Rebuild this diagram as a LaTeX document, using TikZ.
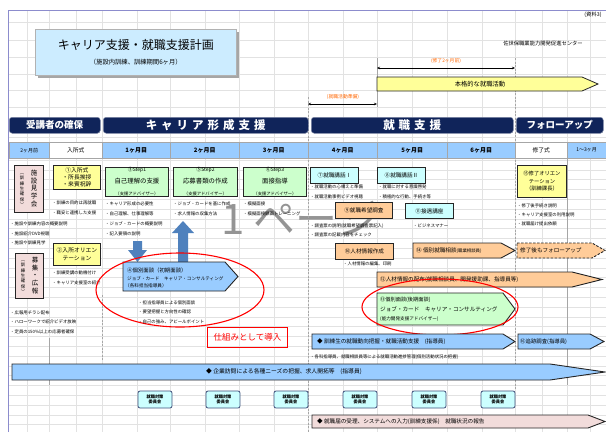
\documentclass[tikz,border=0pt]{standalone}
\usepackage{fontspec}
\setmainfont{Noto Sans CJK JP}
\usetikzlibrary{arrows.meta,shadows}
\definecolor{navyb}{RGB}{16,36,90}
\definecolor{hdrblue}{RGB}{153,204,255}
\definecolor{lblue}{RGB}{153,204,255}
\definecolor{yel}{RGB}{255,255,153}
\definecolor{grn}{RGB}{204,255,204}
\definecolor{cyn}{RGB}{204,255,255}
\definecolor{org}{RGB}{255,204,153}
\definecolor{pnk}{RGB}{242,220,219}
\definecolor{ttl}{RGB}{204,236,255}
\definecolor{gridc}{RGB}{226,226,226}
\definecolor{txtorange}{RGB}{255,102,0}
\definecolor{bigblue}{RGB}{79,129,189}
\definecolor{framec}{RGB}{140,140,205}
\newcommand{\fsz}[2]{\fontsize{#1}{#2}\selectfont}
\newcommand{\lsp}{\hspace{4pt}}
\newcommand{\pentarrow}[6][]{\draw[#1] (#2,#3) -- (#4,#3) -- (#6,{(#3+#5)/2}) -- (#4,#5) -- (#2,#5) -- cycle;}
\begin{document}
\begin{tikzpicture}[x=1pt,y=-1pt,
  itm/.style={font=\fsz{4.4}{5}, inner sep=0pt, anchor=west},
  bx/.style={draw=black!85, line width=0.9pt, inner sep=0pt, align=center, anchor=north west},
  hdr/.style={draw=gray!70, line width=0.4pt, fill=hdrblue, anchor=north west, minimum height=16pt, inner sep=0pt, font=\fsz{6}{7}\bfseries},
  banner/.style={fill=navyb, draw=navyb!55!white, line width=0.5pt, rounded corners=3pt, text=white, font=\fsz{9.5}{10}\bfseries, anchor=north west, minimum height=16pt, inner sep=0pt},
  arr/.style={draw=black!85, line width=0.9pt},
  cmt/.style={draw=navyb!80, fill=cyn, line width=0.8pt, rounded corners=2pt, minimum width=34pt, minimum height=17pt, inner sep=0pt, align=center, font=\fsz{4.2}{5.5}\bfseries},
  vline/.style={draw=gray!70, line width=0.5pt},
  dline/.style={draw=gray!70, line width=0.5pt, dash pattern=on 2pt off 1.5pt},
  ell/.style={draw=red, line width=1.1pt},
  lbl/.style={inner sep=0pt, anchor=west},
  dim/.style={draw=black, line width=0.5pt, {Stealth[length=3pt,width=2.5pt]}-{Stealth[length=3pt,width=2.5pt]}}
]
\useasboundingbox (0,0) rectangle (606,432);
\fill[white] (0,0) rectangle (606,432);
% spreadsheet grid
\foreach \gx in {27,49,76,102,137,170,205,239,274,308,343,377,412,447,482,515,542,567,590}
  {\draw[gridc, line width=0.4pt] (\gx,10) -- (\gx,432);}
\foreach \gy in {22,40,57,74,90,107,137}
  {\draw[gridc, line width=0.4pt] (8,\gy) -- (606,\gy);}
\foreach \k in {0,...,27}
  {\draw[gridc, line width=0.4pt] (8,{160+9.8*\k}) -- (606,{160+9.8*\k});}
% frame
\draw[framec, line width=0.8pt] (8,432) -- (8,10) -- (606,10);
% page watermark
\node[text=black!42, font=\fsz{42}{42}, inner sep=0pt, anchor=west] (wm) at (221,219) {1 ページ};

% top texts
\node[font=\fsz{5.3}{6}, inner sep=0pt] (doc) at (593,15) {(資料3)};
\node[font=\fsz{5.3}{6}, inner sep=0pt] (center) at (543,43) {佐世保職業能力開発促進センター};
\node[bx, fill=ttl, draw=gray!60, line width=0.6pt, minimum width=201pt, minimum height=46pt,
  drop shadow={shadow xshift=3pt, shadow yshift=-3pt, fill=black!35, opacity=1}] (title) at (35,29)
  {\fsz{12}{14}キャリア支援・就職支援計画\\[3pt]\fsz{6.3}{7}（施設内訓練、訓練期間6ヶ月）};

% period markers
\draw[vline] (377,58) -- (377,107);
\draw[dline] (515,58) -- (515,390);
\draw[dline] (308,97) -- (308,432);
\coordinate (p1) at (377,68); \coordinate (p2) at (515,68);
\draw[dim] (p1) -- (p2);
\node[font=\fsz{4.8}{5}, text=txtorange, inner sep=0pt] (pre2) at (446,61) {(修了2ヶ月前)};
\pentarrow[fill=yel, draw=black!85, line width=0.8pt]{377}{77}{582}{91}{598}
\node[font=\fsz{6.3}{7}, inner sep=0pt] (honkaku) at (480,84) {本格的な就職活動};
\coordinate (q1) at (308,104); \coordinate (q2) at (377,104);
\draw[dim] (q1) -- (q2);
\node[font=\fsz{4.8}{5}, text=txtorange, inner sep=0pt] (prep) at (343,97) {(就職活動準備)};

% banners
\node[banner, minimum width=91pt] (bn1) at (9,117) {受講者の確保};
\node[banner, minimum width=205pt, font=\fsz{11.5}{12}\bfseries] (bn2) at (103,117) {キ\lsp ャ\lsp リ\lsp ア\lsp 形\lsp 成\lsp 支\lsp 援};
\node[banner, minimum width=202pt, font=\fsz{11.5}{12}\bfseries] (bn3) at (311,117) {就\lsp 職\lsp 支\lsp 援};
\node[banner, minimum width=87pt] (bn4) at (516,117) {フォローアップ};

% header row
\node[hdr, minimum width=40pt, font=\fsz{5}{6}] (h0) at (9,142) {2ヶ月前};
\node[hdr, fill=white, minimum width=53pt, font=\fsz{5.8}{6}] (h1) at (49,142) {入所式};
\node[hdr, minimum width=68pt] (h2) at (102,142) {1ヶ月目};
\node[hdr, minimum width=69pt] (h3) at (170,142) {2ヶ月目};
\node[hdr, minimum width=69pt] (h4) at (239,142) {3ヶ月目};
\node[hdr, minimum width=69pt] (h5) at (308,142) {4ヶ月目};
\node[hdr, minimum width=70pt] (h6) at (377,142) {5ヶ月目};
\node[hdr, minimum width=68pt] (h7) at (447,142) {6ヶ月目};
\node[hdr, fill=white, minimum width=52pt, font=\fsz{5.8}{6}] (h8) at (515,142) {修了式};
\node[hdr, minimum width=39pt, font=\fsz{5}{6}] (h9) at (567,142) {1～3ヶ月};

% column lines in body
\draw[vline] (49,338) -- (49,385);
\draw[dline] (102,295) -- (102,360);
\draw[vline] (567,158) -- (567,385);

% ---- recruitment column
\node[bx, fill=pnk, minimum width=29pt, minimum height=47pt] (kengaku) at (14,165) {};
\node[font=\fsz{6.5}{7.8}, align=center, inner sep=0pt] (kg1) at (34,188.5) {施\\設\\見\\学\\会};
\node[font=\fsz{4.4}{5.4}, align=center, inner sep=0pt] (kg2) at (22,190) {︵\\訓\\練\\生\\確\\保\\︶};
\node[bx, fill=pnk, minimum width=28pt, minimum height=45pt] (boshu) at (15,253) {};
\node[font=\fsz{6.5}{7.8}, align=center, inner sep=0pt] (bs1) at (35,275.5) {募\\集\\・\\広\\報};
\node[font=\fsz{4.4}{5.4}, align=center, inner sep=0pt] (bs2) at (23,277) {︵\\訓\\練\\生\\確\\保\\︶};
\node[itm] (r1) at (10,224) {・施設や訓練内容の概要説明};
\node[itm] (r2) at (10,234) {・施設紹介DVD視聴};
\node[itm] (r3) at (10,243) {・施設や訓練見学};
\node[itm] (r4) at (10,313) {・広報用チラシ配布};
\node[itm] (r5) at (10,322) {・ハローワークで紹介ビデオ放映};
\node[itm] (r6) at (10,332) {・定員の150\%以上の応募者確保};

% ---- entrance column
\node[bx, fill=yel, minimum width=47pt, minimum height=24pt, font=\fsz{5.8}{6.8}] (nyusho) at (53,165) {①入所式\\・所長挨拶\\・来賓祝辞};
\node[itm] (n1) at (52,203) {・訓練の目的は再就職};
\node[itm] (n2) at (52,213) {・職安と連携した支援};
\node[bx, fill=yel, minimum width=47pt, minimum height=22pt, font=\fsz{5.8}{7.5}] (orient) at (53,243) {②入所オリエン\\テーション};
\node[itm] (n3) at (52,273) {・訓練受講の動機付け};
\node[itm] (n4) at (52,283) {・キャリア支援室の紹介};

% ---- steps
\node[bx, fill=grn, minimum width=63pt, minimum height=28pt] (s1) at (105,167)
  {\fsz{5}{6.5}③Step1\\\fsz{6.4}{7.5}自己理解の支援\\\fsz{4.3}{6}（支援アドバイザー）};
\node[bx, fill=grn, minimum width=64pt, minimum height=28pt] (s2) at (173,167)
  {\fsz{5}{6.5}⑤Step2\\\fsz{6.4}{7.5}応募書類の作成\\\fsz{4.3}{6}（支援アドバイザー）};
\node[bx, fill=grn, minimum width=63pt, minimum height=28pt] (s3) at (243,167)
  {\fsz{5}{6.5}⑥Step3\\\fsz{6.4}{7.5}面接指導\\\fsz{4.3}{6}（支援アドバイザー）};
\node[itm] (t1) at (105,204) {・キャリア形成の必要性};
\node[itm] (t2) at (105,214) {・自己理解、仕事理解等};
\node[itm] (t3) at (105,224) {・ジョブ・カードの概要説明};
\node[itm] (t4) at (105,234) {・記入要領の説明};
\node[itm] (t5) at (173,204) {・ジョブ・カードを基に作成};
\node[itm] (t6) at (173,214) {・求人情報の収集方法};
\node[itm] (t7) at (243,204) {・模擬面接};
\node[itm] (t8) at (243,214) {・模擬面接録画トレーニング};

% blue arrows
\fill[bigblue] (133,241) -- (142,241) -- (142,250) -- (147,250) -- (137.5,262) -- (128,250) -- (133,250) -- cycle;
\fill[bigblue] (178,263) -- (188,263) -- (188,233) -- (194,233) -- (183,221) -- (172,233) -- (178,233) -- cycle;

% initial interview
\pentarrow[fill=lblue, arr]{123}{262}{225}{291}{238}
\node[lbl, font=\fsz{5.4}{6}] (m1) at (127,270) {④個別面談（初期面談）};
\node[lbl, font=\fsz{4.6}{5}] (m2) at (127,278.5) {ジョブ・カード　キャリア・コンサルティング};
\node[lbl, font=\fsz{4.6}{5}] (m3) at (125,286) {（各科担当指導員）};
\draw[ell] (180,290) ellipse [x radius=84, y radius=37];
\node[itm] (m4) at (138,303) {・担当指導員による個別面談};
\node[itm] (m5) at (138,312) {・要望把握と方向性の確認};
\node[itm] (m6) at (138,322) {・自己の強み、アピールポイント};
\node[draw=red, line width=0.8pt, text=red, font=\fsz{8.5}{9}, minimum width=80pt, minimum height=20pt, inner sep=0pt, anchor=north west] (shikumi) at (207,327) {仕組みとして導入};

% ---- employment support
\node[bx, fill=cyn, minimum width=48pt, minimum height=16pt, font=\fsz{5.6}{6}] (k1) at (310,167) {⑦就職講話Ⅰ};
\node[bx, fill=cyn, minimum width=48pt, minimum height=16pt, font=\fsz{5.6}{6}] (k2) at (377,167) {⑧就職講話Ⅱ};
\node[itm] (u1) at (310,187) {・就職活動の心構えと準備};
\node[itm] (u2) at (310,197) {・就職活動事例ビデオ視聴};
\node[itm] (u3) at (378,187) {・就職に対する意識啓発};
\node[itm] (u4) at (378,197) {・積極的な行動、手続き等};
\node[bx, fill=org, minimum width=57pt, minimum height=16pt, font=\fsz{5.6}{6}] (chosa) at (335,202) {⑨就職希望調査};
\node[bx, fill=cyn, minimum width=48pt, minimum height=15pt, font=\fsz{5.6}{6}] (setsugu) at (405,203) {⑪接遇講座};
\node[itm] (u5) at (413,226) {・ビジネスマナー};
\node[itm] (u6) at (310,226) {・調査票の説明(就職希望調査票記入)};
\node[itm] (u7) at (310,235) {・調査票の記載内容をチェック};
\node[bx, fill=org, minimum width=58pt, minimum height=16pt, font=\fsz{5.6}{6}] (jinzai) at (335,243) {⑩人材情報作成};
\node[itm] (u8) at (343,264) {・人材情報の編集、印刷};

\pentarrow[fill=org, arr]{413}{243}{501}{258}{515}
\node[lbl] (soudan) at (416,250.5) {\fsz{5.6}{6}⑭ 個別就職相談\fsz{4.4}{5}(職業相談員)};
\pentarrow[fill=org, draw=black!85, line width=0.9pt, dash pattern=on 2.5pt off 1.5pt]{517}{243}{592}{258}{605}
\node[lbl, font=\fsz{5.6}{6}] (follow) at (520,250.5) {修了後もフォローアップ};
\pentarrow[fill=org, arr]{377}{272}{572}{287}{602}
\node[lbl, font=\fsz{5.6}{6}] (haifu) at (380,279.5) {⑫人材情報の配布(就職相談員、開発援助課、指導員等)};

\pentarrow[fill=grn, arr]{377}{293}{503}{325}{515}
\node[lbl, font=\fsz{5.2}{6}] (g1) at (380,300) {⑬個別面談(後期面談)};
\node[lbl, font=\fsz{5.6}{6}] (g2) at (380,309.5) {ジョブ・カード　キャリア・コンサルティング};
\node[lbl, font=\fsz{4.6}{5}] (g3) at (380,319) {(能力開発支援アドバイザー)};
\draw[ell] (440,307) ellipse [x radius=78, y radius=28];

\pentarrow[fill=lblue, arr]{312}{334}{503}{349}{515}
\node[lbl, font=\fsz{5.6}{6}] (doko) at (317,341.5) {◆ 訓練生の就職動向把握・就職活動支援　(指導員)};
\pentarrow[fill=lblue, arr]{518}{334}{590}{349}{604}
\node[lbl, font=\fsz{5.4}{6}] (tsuiseki) at (520,341.5) {⑯追跡調査(指導員)};
\node[itm] (u9) at (310,357) {・各科指導員、就職相談員等による就職活動進捗管理(個別活動状況の把握)};

% ---- follow-up column
\node[bx, fill=yel, minimum width=49pt, minimum height=32pt, font=\fsz{5.3}{7.5}] (shuryo) at (517,165) {⑮修了オリエン\\テーション\\（訓練課長）};
\node[itm] (f1) at (517,206) {・修了後手続き説明};
\node[itm] (f2) at (517,215) {・キャリア支援室の利用説明};
\node[itm] (f3) at (517,224) {・就職届け提出依頼};

% ---- company visits
\pentarrow[fill=lblue, arr]{12}{364}{550}{380}{605}
\node[font=\fsz{5.8}{6}, inner sep=0pt] (kigyo) at (284,372) {◆ 企業訪問による各種ニーズの把握、求人開拓等　(指導員)};

% ---- committee meetings
\node[cmt] (c1) at (155,399.5) {就職対策\\委員会};
\node[cmt] (c2) at (223,399.5) {就職対策\\委員会};
\node[cmt] (c3) at (291,399.5) {就職対策\\委員会};
\node[cmt] (c4) at (360,399.5) {就職対策\\委員会};
\node[cmt] (c5) at (429,399.5) {就職対策\\委員会};
\node[cmt] (c6) at (498,399.5) {就職対策\\委員会};

% ---- final report
\pentarrow[fill=pnk, arr]{312}{415}{588}{428}{605}
\node[lbl, font=\fsz{5.6}{6}] (todoke) at (317,421.5) {◆ 就職届の受理、システムへの入力(訓練支援係)　就職状況の報告};
\end{tikzpicture}
\end{document}
